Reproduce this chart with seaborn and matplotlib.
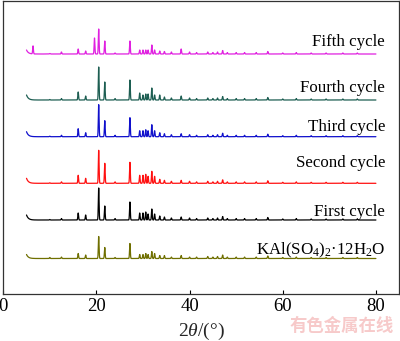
import numpy as np
import pandas as pd
import matplotlib
matplotlib.use("Agg")
import matplotlib.pyplot as plt
import seaborn as sns

# ---------------- data (arbitrary intensity units) ----------------
series_names = ["KAl(SO$_4$)$_2$·12H$_2$O", "First cycle", "Second cycle",
                "Third cycle", "Fourth cycle", "Fifth cycle"]
series_colors = ["#6f6f00", "#000000", "#ff1010", "#1010cc", "#1d5e52", "#e020e0"]
offsets = [35.5, 74.0, 110.7, 157.3, 194.0, 240.0]
start_rise = [4.0, 5.0, 5.0, 5.0, 5.0, 4.0]
label_y = [44.0, 82.3, 131.0, 167.3, 205.7, 252.0]

# main reflections (2theta, degrees)
peak_pos = [6.4, 10.0, 12.5, 16.1, 17.7, 19.6, 20.5, 21.8, 24.0, 27.2, 29.3, 30.0,
            30.6, 31.1, 31.9, 32.5, 33.6, 34.6, 36.1, 38.2, 40.0]
h_kal    = [0, 1.0, 1.5, 5, 3.5, 0, 22, 11, 1.0, 15, 4, 4, 5, 4, 7, 5, 3, 3, 1.5, 3, 1.5]
h_first  = [0, 0.5, 1.5, 7, 5.0, 0, 32, 14, 1.5, 18, 7, 7, 8, 6, 11, 6, 4, 3, 2.0, 3, 2.0]
h_second = [0, 0.5, 1.5, 8, 5.0, 0, 33, 20, 1.5, 21, 8, 8, 9, 7, 12, 7, 4, 3, 2.0, 3, 2.0]
h_third  = [0, 0.5, 1.5, 8, 4.0, 0, 32, 16, 1.5, 19, 6, 6, 7, 6, 12, 6, 4, 3, 2.0, 3, 2.0]
h_fourth = [0, 0.5, 1.5, 8, 4.0, 0, 33, 18, 1.5, 20, 7, 5, 6, 6, 12, 5, 5, 3, 2.0, 4, 2.0]
h_fifth  = [8, 0.5, 2.0, 5, 3.0, 16, 25, 13, 1.0, 13, 4, 4, 4, 4, 9, 4, 3, 2.5, 2.0, 5, 2.0]
main_heights = [h_kal, h_first, h_second, h_third, h_fourth, h_fifth]

# weak high-angle reflections shared by all patterns
minor_pos = [41.5, 43.9, 45.0, 46.0, 47.1, 48.1, 50.0, 51.8, 54.3, 56.8, 60.0,
             62.9, 66.1, 69.3, 72.9, 76.0]
minor_h   = [1.5, 2.0, 1.5, 2.0, 3.5, 1.5, 1.5, 1.5, 1.5, 2.5, 1.0,
             1.5, 1.0, 1.0, 1.0, 1.0]

xticks = [0, 20, 40, 60, 80]

# ---------------- build patterns ----------------
two_theta = np.arange(5.0, 80.0001, 0.02)
sigma = 0.08

def pattern(heights, offset, rise):
    y = np.full_like(two_theta, offset)
    y += rise * np.exp(-(two_theta - 5.0) / 0.4)
    for p, h in zip(peak_pos, heights):
        if h:
            y += h * np.exp(-0.5 * ((two_theta - p) / sigma) ** 2)
    for p, h in zip(minor_pos, minor_h):
        y += h * np.exp(-0.5 * ((two_theta - p) / sigma) ** 2)
    return y

frames = []
for name, hs, off, r in zip(series_names, main_heights, offsets, start_rise):
    frames.append(pd.DataFrame({"two_theta": two_theta,
                                "intensity": pattern(hs, off, r),
                                "series": name}))
df = pd.concat(frames, ignore_index=True)

# ---------------- plot ----------------
sns.set_style("ticks")
plt.rcParams["font.family"] = ["Liberation Serif", "DejaVu Serif"]
plt.rcParams["mathtext.fontset"] = "custom"
plt.rcParams["mathtext.rm"] = "Liberation Serif"
plt.rcParams["mathtext.it"] = "Liberation Serif:italic"

fig = plt.figure(figsize=(4.0, 3.41), dpi=100)
ax = fig.add_axes([0.008, 1 - 294 / 341, 0.99, (294 - 1) / 341])

for name, col in zip(series_names, series_colors):
    sub = df[df["series"] == name]
    sns.lineplot(data=sub, x="two_theta", y="intensity", color=col, lw=0.9,
                 estimator=None, sort=False, ax=ax, legend=False)

for name, ly in zip(series_names, label_y):
    ax.text(82.0, ly, name, ha="right", va="center", fontsize=12.2, color="black")

ax.set_xlim(0, 85)
ax.set_ylim(0, 293)
ax.set_xticks(xticks)
ax.set_yticks([])
ax.tick_params(axis="x", direction="in", length=3, width=0.8, pad=3,
               labelsize=13.5, colors="black")
for s in ax.spines.values():
    s.set_linewidth(0.9)
    s.set_color("#333333")
ax.set_xlabel(r"2$\it{\theta}$/(°)", fontsize=14, labelpad=4)
ax.set_ylabel("")

fig.text(0.855, 1 - 326 / 341, "有色金属在线", color="#f7caca", fontsize=12.5,
         family=["Noto Sans CJK SC", "DejaVu Sans"], weight="bold",
         ha="center", va="center")

fig.savefig("out.png", dpi=100)
